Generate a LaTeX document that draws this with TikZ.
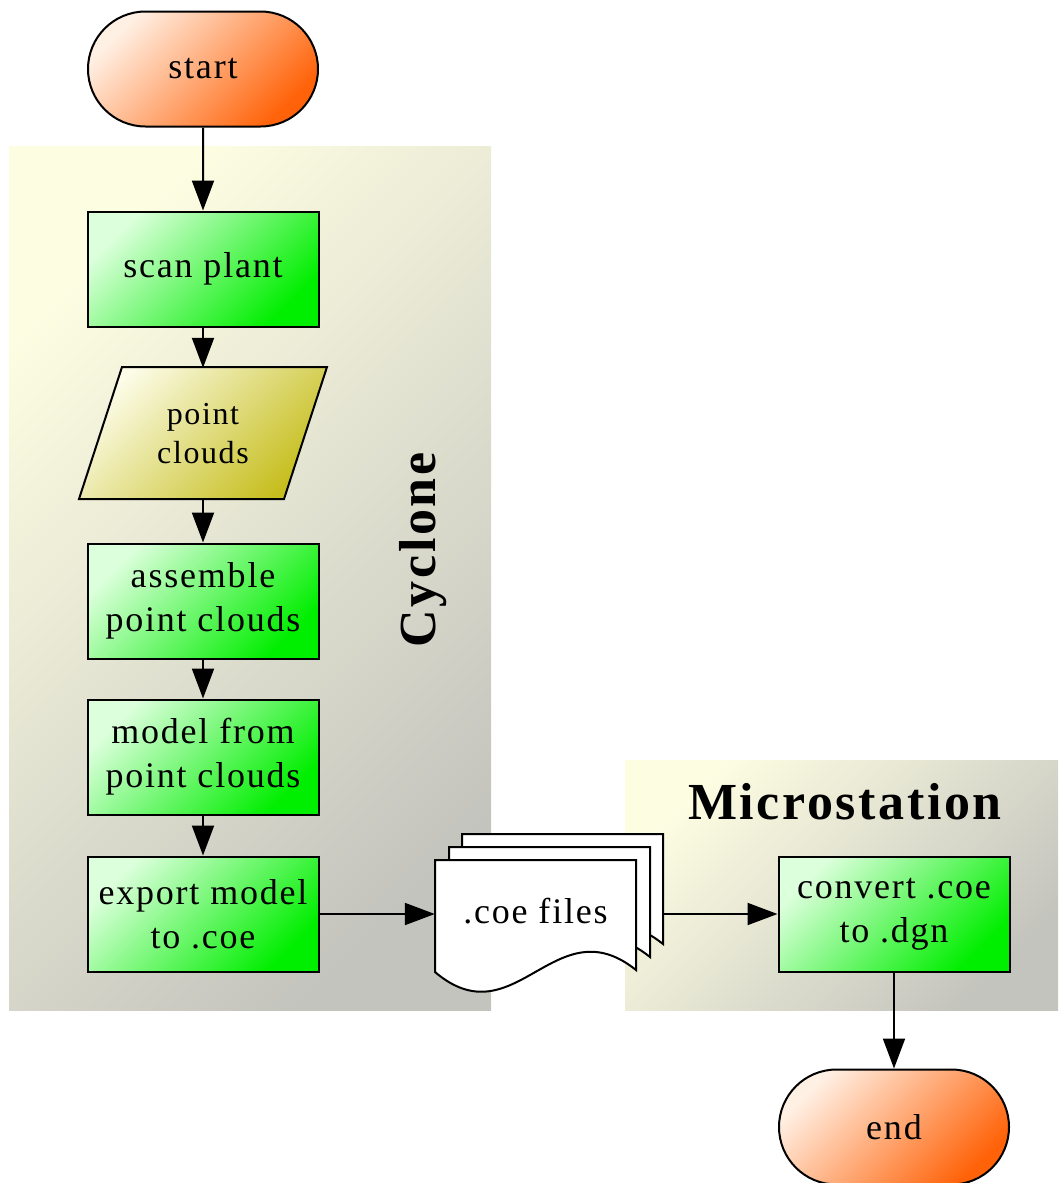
\documentclass[tikz,border=0pt]{standalone}
\usepackage{fontspec}
\setmainfont{Liberation Serif}
\newfontfamily\spaced[LetterSpace=5]{Liberation Serif}
\usetikzlibrary{arrows.meta,shapes.misc}
\definecolor{orA}{HTML}{FFF0E4}
\definecolor{orB}{HTML}{FF6208}
\definecolor{grA}{HTML}{DCFFDC}
\definecolor{grB}{HTML}{00EE00}
\definecolor{olA}{HTML}{FCFCE8}
\definecolor{olB}{HTML}{C6BE1E}
\definecolor{clA}{HTML}{FDFDE2}
\definecolor{clB}{HTML}{C4C4BE}
\tikzset{
  x=1pt, y=-1pt,
  term/.style={rounded rectangle, draw=black, line width=2pt, top color=orA, bottom color=orB, shading angle=45,
    minimum width=230pt, minimum height=115pt, inner sep=0pt, font=\spaced\fontsize{36}{44}\selectfont},
  proc/.style={rectangle, draw=black, line width=2pt, top color=grA, bottom color=grB, shading angle=45,
    minimum width=231pt, minimum height=115pt, inner sep=0pt, align=center, font=\spaced\fontsize{36}{44}\selectfont},
  clus/.style={top color=clA, bottom color=clB, shading angle=45},
  lbl/.style={font=\spaced\bfseries\fontsize{52}{60}\selectfont},
  conn/.style={line width=2pt, -{Triangle[length=30pt,width=22pt]}},
  page/.style={draw=black, line width=2pt, fill=white},
}
\begin{document}
\begin{tikzpicture}
\useasboundingbox (0,0) rectangle (1058,1183);
% clusters
\shade[clus] (9,146) rectangle (491,1010);
\shade[clus] (625,760) rectangle (1058,1010);
\node[lbl, rotate=90] (lcyc) at (423,550) {Cyclone};
\node[lbl] (lmic) at (845,802) {Microstation};
% nodes
\node[term] (start) at (203,69) {start};
\node[proc] (scan) at (203,269) {scan plant};
\shade[top color=olA, bottom color=olB, shading angle=45, draw=black, line width=2pt]
  (122,367) -- (327,367) -- (284,499) -- (79,499) -- cycle;
\node[minimum width=160pt, minimum height=132pt, inner sep=0pt, align=center, font=\spaced\fontsize{32}{39}\selectfont] (pc) at (203,434) {point\\clouds};
\node[proc] (asm) at (203,601) {assemble\\point clouds};
\node[proc] (mod) at (203,757) {model from\\point clouds};
\node[proc] (exp) at (203,914) {export model\\to .coe};
\node[proc] (conv) at (894,914) {convert .coe\\to .dgn};
\node[term] (end) at (894,1127) {end};
% document stack
\foreach \dx/\dy in {27/-26, 14/-13, 0/0} {
  \begin{scope}[shift={(\dx,\dy)}]
    \path[page] (435,860) -- (636,860) -- (636,970)
      .. controls (555,905) and (515,1040) .. (435,972) -- cycle;
  \end{scope}
}
\node[minimum width=201pt, minimum height=115pt, inner sep=0pt, font=\spaced\fontsize{36}{44}\selectfont] (coe) at (535.5,911) {.coe files};
\node[minimum width=227pt, minimum height=115pt, inner sep=0pt] (coeall) at (548.5,913) {};
% connectors
\draw[conn] (start) -- (scan);
\draw[conn] (scan) -- (pc);
\draw[conn] (pc) -- (asm);
\draw[conn] (asm) -- (mod);
\draw[conn] (mod) -- (exp);
\draw[conn] (exp) -- (coe.west |- exp.east);
\draw[conn] (coeall.east |- conv.west) -- (conv);
\draw[conn] (conv) -- (end);
\end{tikzpicture}
\end{document}
